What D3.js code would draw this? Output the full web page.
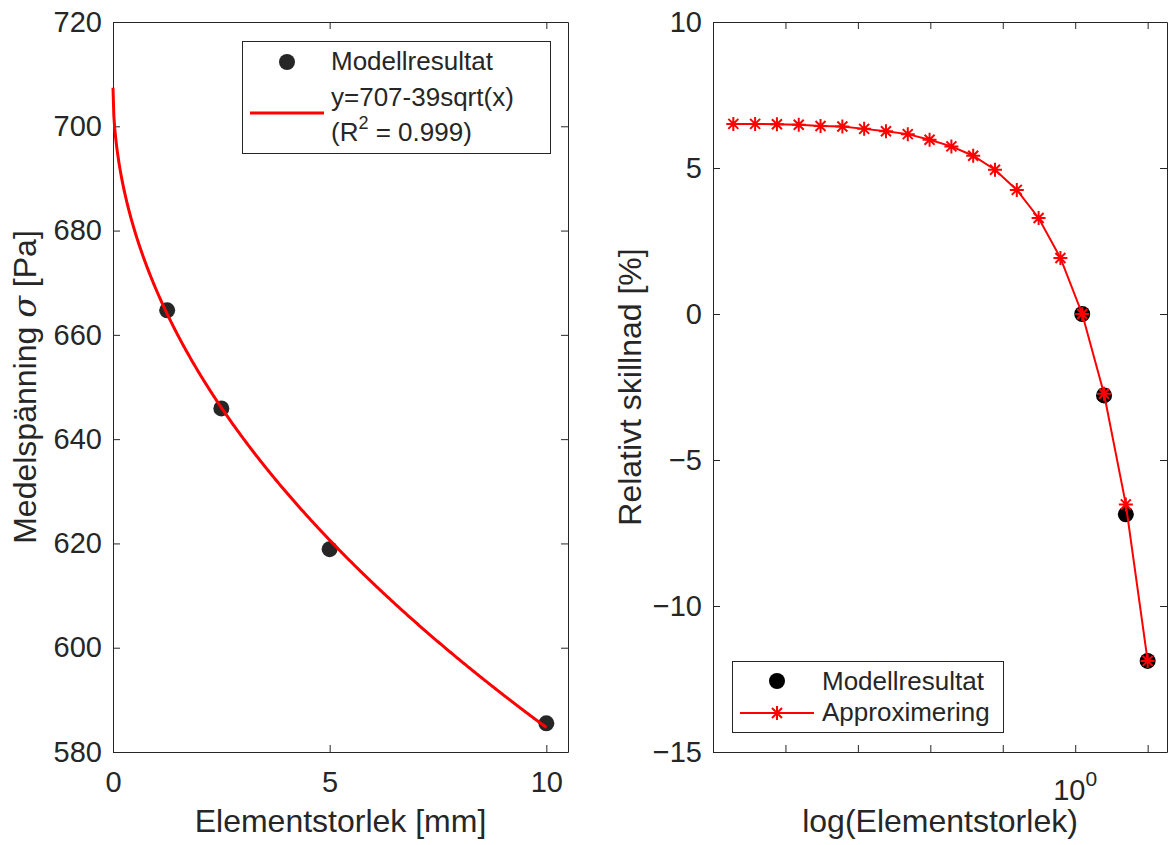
<!DOCTYPE html>
<html lang="sv">
<head>
<meta charset="utf-8">
<title>Medelspänning och relativ skillnad</title>
<script src="https://d3js.org/d3.v7.min.js"></script>
<style>
  body { margin: 0; background: #fff; }
  text { font-family: "Liberation Sans", Arial, Helvetica, sans-serif; fill: #262626; }
  .axis path, .axis line { stroke: #262626; stroke-width: 1; }
</style>
</head>
<body>
<div id="chart"></div>
<script>
// ---- left panel: mean stress vs element size ----
let elementSize = [1.25, 2.5, 5, 10];
let meanStress = [664.7, 645.9, 618.9, 585.5];
// fitted curve y = a - b*sqrt(x) (legend rounds to 707 / 39)
let fitA = 707.4;
let fitB = 38.8;
let leftXTicks = [0, 5, 10];
let leftYTicks = [580, 600, 620, 640, 660, 680, 700, 720];

// ---- right panel: relative difference vs log(element size) ----
let approxSize = [1.9073e-5, 3.8147e-5, 7.6294e-5, 1.5259e-4, 3.0518e-4, 6.1035e-4,
                  1.2207e-3, 2.4414e-3, 4.8828e-3, 9.7656e-3, 0.019531, 0.039063,
                  0.078125, 0.15625, 0.3125, 0.625, 1.25, 2.5, 5, 10];
let approxDiff = [6.51, 6.51, 6.50, 6.48, 6.44, 6.42, 6.34, 6.26, 6.16, 5.97,
                  5.74, 5.42, 4.94, 4.25, 3.29, 1.92, 0.0, -2.73, -6.52, -11.88];
let modelDiff = [0.0, -2.79, -6.86, -11.88];
let rightXTicks = [1e-5, 1e-4, 1e-3, 1e-2, 1e-1, 1, 10];
let rightYTicks = [-15, -10, -5, 0, 5, 10];

let W = 1169, H = 845;
let plotTop = 22, plotBottom = 752;
let tickFont = 29, labelFont = 32, legendFont = 26;
let ink = "#262626";

let svg = d3.select("#chart").append("svg")
  .attr("width", W).attr("height", H)
  .style("background", "#fff");

function frame(x, y, xTicks, yTicks, xFmt) {
  let x0 = x.range()[0], x1 = x.range()[1];
  // bottom
  svg.append("g").attr("class", "axis")
    .attr("transform", "translate(0," + plotBottom + ")")
    .call(d3.axisBottom(x).tickValues(xTicks).tickFormat(xFmt)
      .tickSizeInner(-7).tickSizeOuter(0).tickPadding(19))
    .attr("font-size", tickFont);
  // top (mirror)
  svg.append("g").attr("class", "axis")
    .attr("transform", "translate(0," + plotTop + ")")
    .call(d3.axisTop(x).tickValues(xTicks).tickFormat("")
      .tickSizeInner(-7).tickSizeOuter(0));
  // left
  svg.append("g").attr("class", "axis")
    .attr("transform", "translate(" + x0 + ",0)")
    .call(d3.axisLeft(y).tickValues(yTicks).tickFormat(d3.format("d"))
      .tickSizeInner(-7).tickSizeOuter(0).tickPadding(11))
    .attr("font-size", tickFont);
  // right (mirror)
  svg.append("g").attr("class", "axis")
    .attr("transform", "translate(" + x1 + ",0)")
    .call(d3.axisRight(y).tickValues(yTicks).tickFormat("")
      .tickSizeInner(-7).tickSizeOuter(0));
}

// ================= LEFT =================
let xL = d3.scaleLinear().domain([0, 10.5]).range([113, 568]);
let yL = d3.scaleLinear().domain([580, 720]).range([plotBottom, plotTop]);

frame(xL, yL, leftXTicks, leftYTicks, d3.format("d"));

svg.selectAll("circle.model-l")
  .data(elementSize)
  .enter().append("circle")
  .attr("class", "model-l")
  .attr("cx", d => xL(d))
  .attr("cy", (d, i) => yL(meanStress[i]))
  .attr("r", 8)
  .attr("fill", ink);

let fitXs = d3.range(0, 10.0001, 0.02);
svg.append("path")
  .datum(fitXs)
  .attr("fill", "none")
  .attr("stroke", "#ff0000")
  .attr("stroke-width", 3)
  .attr("d", d3.line().x(d => xL(d)).y(d => yL(fitA - fitB * Math.sqrt(d))));

svg.append("text")
  .attr("x", (xL.range()[0] + xL.range()[1]) / 2).attr("y", 832)
  .attr("text-anchor", "middle").attr("font-size", labelFont)
  .text("Elementstorlek [mm]");

let ylabL = svg.append("text")
  .attr("transform", "translate(36," + (plotTop + plotBottom) / 2 + ") rotate(-90)")
  .attr("text-anchor", "middle").attr("font-size", labelFont);
ylabL.append("tspan").text("Medelspänning ");
ylabL.append("tspan").attr("font-style", "italic").attr("font-family", "DejaVu Serif").text("σ");
ylabL.append("tspan").text(" [Pa]");

// left legend
let lg = svg.append("g");
lg.append("rect").attr("x", 242.5).attr("y", 41.5).attr("width", 308).attr("height", 112)
  .attr("fill", "#fff").attr("stroke", ink).attr("stroke-width", 1);
lg.append("circle").attr("cx", 287).attr("cy", 62).attr("r", 8).attr("fill", ink);
lg.append("line").attr("x1", 250).attr("x2", 324).attr("y1", 113).attr("y2", 113)
  .attr("stroke", "#ff0000").attr("stroke-width", 3);
lg.append("text").attr("x", 331).attr("y", 70).attr("font-size", legendFont).text("Modellresultat");
lg.append("text").attr("x", 331).attr("y", 106).attr("font-size", legendFont).text("y=707-39sqrt(x)");
let r2 = lg.append("text").attr("x", 331).attr("y", 141).attr("font-size", legendFont);
r2.append("tspan").text("(R");
r2.append("tspan").attr("font-size", 18).attr("dy", -12).text("2");
r2.append("tspan").attr("dy", 12).text(" = 0.999)");

// ================= RIGHT =================
let xR = d3.scaleLog().domain([1e-5, 18.5]).range([713, 1167]);
let yR = d3.scaleLinear().domain([-15, 10]).range([plotBottom, plotTop]);

frame(xR, yR, rightXTicks, rightYTicks, () => "");

// only 10^0 is labelled
let xl = svg.append("text")
  .attr("x", xR(1)).attr("y", 800)
  .attr("text-anchor", "middle").attr("font-size", tickFont);
xl.append("tspan").text("10");
xl.append("tspan").attr("font-size", 21).attr("dy", -14).text("0");

svg.selectAll("circle.model-r")
  .data(elementSize)
  .enter().append("circle")
  .attr("class", "model-r")
  .attr("cx", d => xR(d))
  .attr("cy", (d, i) => yR(modelDiff[i]))
  .attr("r", 8)
  .attr("fill", "#000");

svg.append("path")
  .datum(approxSize)
  .attr("fill", "none")
  .attr("stroke", "#ff0000")
  .attr("stroke-width", 2)
  .attr("d", d3.line().x(d => xR(d)).y((d, i) => yR(approxDiff[i])));

let star = "M0,-7V7M-7,0H7M-5,-5L5,5M-5,5L5,-5";
svg.selectAll("path.star")
  .data(approxSize)
  .enter().append("path")
  .attr("class", "star")
  .attr("transform", (d, i) => "translate(" + xR(d) + "," + yR(approxDiff[i]) + ")")
  .attr("d", star)
  .attr("fill", "none")
  .attr("stroke", "#ff0000")
  .attr("stroke-width", 2);

svg.append("text")
  .attr("x", (xR.range()[0] + xR.range()[1]) / 2).attr("y", 832)
  .attr("text-anchor", "middle").attr("font-size", labelFont)
  .text("log(Elementstorlek)");

svg.append("text")
  .attr("transform", "translate(641," + (plotTop + plotBottom) / 2 + ") rotate(-90)")
  .attr("text-anchor", "middle").attr("font-size", labelFont)
  .text("Relativt skillnad [%]");

// right legend
let rg = svg.append("g");
rg.append("rect").attr("x", 732.5).attr("y", 661.5).attr("width", 271).attr("height", 71)
  .attr("fill", "#fff").attr("stroke", ink).attr("stroke-width", 1);
rg.append("circle").attr("cx", 777).attr("cy", 681).attr("r", 8).attr("fill", "#000");
rg.append("line").attr("x1", 740).attr("x2", 814).attr("y1", 713).attr("y2", 713)
  .attr("stroke", "#ff0000").attr("stroke-width", 2);
rg.append("path").attr("transform", "translate(777,713)").attr("d", star)
  .attr("fill", "none").attr("stroke", "#ff0000").attr("stroke-width", 2);
rg.append("text").attr("x", 822).attr("y", 690).attr("font-size", legendFont).text("Modellresultat");
rg.append("text").attr("x", 822).attr("y", 721).attr("font-size", legendFont).text("Approximering");
</script>
</body>
</html>
